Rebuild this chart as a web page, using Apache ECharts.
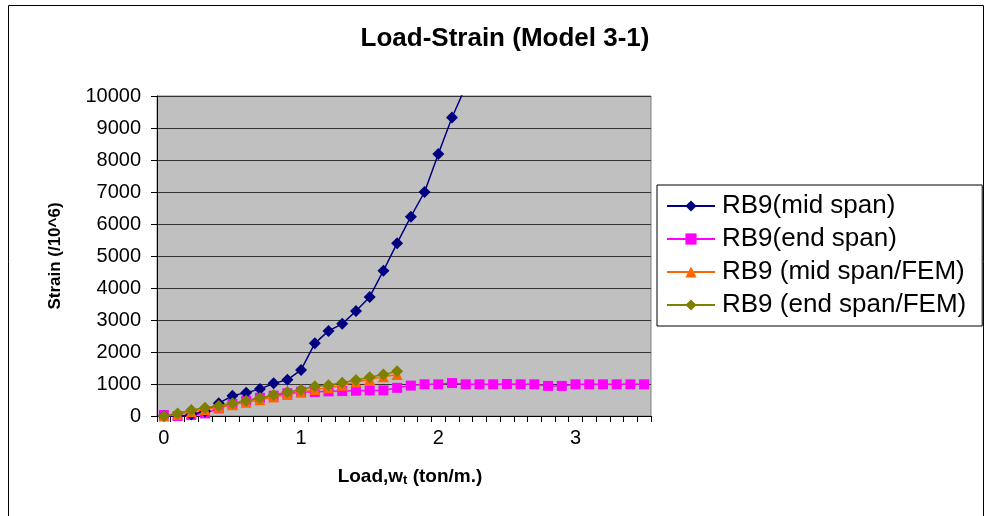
<!DOCTYPE html>
<html>
<head>
<meta charset="utf-8">
<script src="https://cdn.jsdelivr.net/npm/echarts@6/dist/echarts.min.js"></script>
<style>
  html, body { margin: 0; padding: 0; background: #fff; }
  #chart { width: 985px; height: 516px; }
</style>
</head>
<body>
<div id="chart"></div>
<script>
// load (ton/m.) categories
var loads = ['0', '0.1', '0.2', '0.3', '0.4', '0.5', '0.6', '0.7', '0.8', '0.9',
  '1', '1.1', '1.2', '1.3', '1.4', '1.5', '1.6', '1.7', '1.8', '1.9',
  '2', '2.1', '2.2', '2.3', '2.4', '2.5', '2.6', '2.7', '2.8', '2.9',
  '3', '3.1', '3.2', '3.3', '3.4', '3.5'];

var midSpan = [0, -30, 50, 150, 400, 630, 730, 840, 1020, 1130, 1440, 2270, 2660, 2880,
  3280, 3720, 4540, 5400, 6230, 7000, 8190, 9330, 10300];

var endSpan = [30, 0, 30, 80, 240, 375, 480, 570, 635, 710, 760, 750, 770, 780, 790, 800,
  800, 880, 950, 990, 990, 1030, 990, 990, 990, 1000, 990, 990, 940, 940, 990, 990, 990,
  990, 990, 990];

var midSpanFem = [0, 50, 130, 200, 270, 350, 430, 510, 590, 670, 740, 830, 880, 960,
  1060, 1140, 1230, 1300];

var endSpanFem = [0, 80, 190, 260, 310, 400, 480, 560, 655, 750, 820, 930, 960, 1040,
  1125, 1210, 1300, 1395];

var seriesNames = ['RB9(mid span)', 'RB9(end span)', 'RB9 (mid span/FEM)', 'RB9 (end span/FEM)'];

var FONT = 'Liberation Sans, Arial, sans-serif';

var myChart = echarts.init(document.getElementById('chart'));

var option = {
  backgroundColor: '#fff',
  animation: false,
  title: {
    text: 'Load-Strain (Model 3-1)',
    left: 500,
    top: 21,
    textAlign: 'center',
    textStyle: { fontFamily: FONT, fontSize: 26, fontWeight: 'bold', color: '#000' }
  },
  graphic: [{
    type: 'rect',
    shape: { x: 8.5, y: 5.5, width: 975, height: 530 },
    style: { fill: 'none', stroke: '#000', lineWidth: 1 },
    silent: true
  }],
  legend: {
    orient: 'vertical',
    left: 657,
    top: 185,
    padding: [8, 16, 8, 9],
    itemGap: 7,
    itemWidth: 48,
    itemHeight: 14,
    borderColor: '#000',
    borderWidth: 1,
    backgroundColor: '#fff',
    textStyle: { fontFamily: FONT, fontSize: 26, color: '#000', padding: [0, 0, 0, 2] },
    data: seriesNames
  },
  grid: {
    left: 157,
    right: 334,
    top: 96,
    bottom: 100,
    show: true,
    backgroundColor: '#c0c0c0',
    borderColor: '#808080',
    borderWidth: 1
  },
  xAxis: {
    type: 'category',
    data: loads,
    boundaryGap: true,
    name: 'Load,w{sub|t} (ton/m.)',
    nameLocation: 'middle',
    nameGap: 50,
    nameTextStyle: {
      fontFamily: FONT, fontSize: 19, fontWeight: 'bold', color: '#000', padding: [0, 0, 0, 12],
      rich: {
        sub: { fontFamily: FONT, fontSize: 13, fontWeight: 'bold', color: '#000', verticalAlign: 'bottom', padding: [8, 0, 0, 0] }
      }
    },
    axisLine: { lineStyle: { color: '#000', width: 1 } },
    axisTick: { show: true, interval: 0, length: 6, lineStyle: { color: '#000' } },
    axisLabel: {
      interval: 9,
      margin: 12,
      fontFamily: FONT,
      fontSize: 20,
      color: '#000'
    },
    splitLine: { show: false }
  },
  yAxis: {
    type: 'value',
    min: 0,
    max: 10000,
    interval: 1000,
    name: 'Strain (/10^6)',
    nameLocation: 'middle',
    nameGap: 93,
    nameTextStyle: { fontFamily: FONT, fontSize: 17, fontWeight: 'bold', color: '#000' },
    axisLine: { show: true, lineStyle: { color: '#000', width: 1 } },
    axisTick: { show: true, length: 6, lineStyle: { color: '#000' } },
    axisLabel: {
      margin: 16, fontFamily: FONT, fontSize: 20, color: '#000',
      formatter: function (v) { return String(v); }
    },
    splitLine: { lineStyle: { color: '#333', width: 1 } }
  },
  series: [
    {
      name: seriesNames[0],
      type: 'line',
      data: midSpan,
      symbol: 'diamond',
      symbolSize: [12, 12],
      showAllSymbol: true,
      itemStyle: { color: '#000080' },
      lineStyle: { color: '#000080', width: 1.5 },
      z: 5
    },
    {
      name: seriesNames[1],
      type: 'line',
      data: endSpan,
      symbol: 'rect',
      symbolSize: 10,
      showAllSymbol: true,
      itemStyle: { color: '#ff00ff' },
      lineStyle: { color: '#ff00ff', width: 1.5 },
      z: 4
    },
    {
      name: seriesNames[2],
      type: 'line',
      data: midSpanFem,
      symbol: 'triangle',
      symbolSize: 11,
      showAllSymbol: true,
      itemStyle: { color: '#ff6600' },
      lineStyle: { color: '#ff6600', width: 1.5 },
      z: 6
    },
    {
      name: seriesNames[3],
      type: 'line',
      data: endSpanFem,
      symbol: 'diamond',
      symbolSize: [12, 12],
      showAllSymbol: true,
      itemStyle: { color: '#808000' },
      lineStyle: { color: '#808000', width: 1.5 },
      z: 7
    }
  ]
};

myChart.setOption(option);
</script>
</body>
</html>
